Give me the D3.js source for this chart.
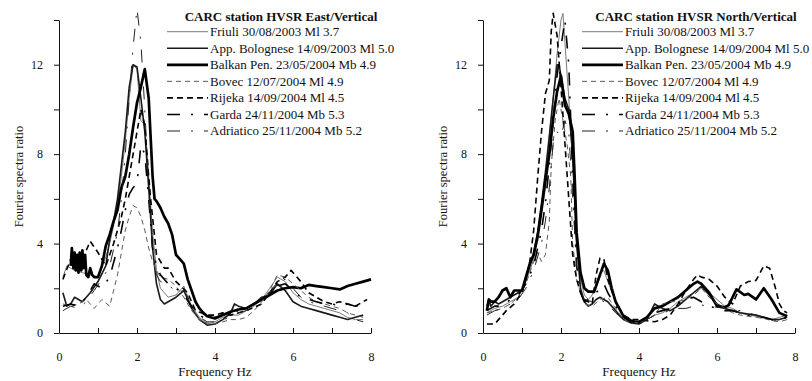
<!DOCTYPE html>
<html>
<head>
<meta charset="utf-8">
<script src="https://cdn.jsdelivr.net/npm/d3@7"></script>
<style>
  body { margin: 0; background: #fff; }
  svg text { font-family: "Liberation Serif", "Times New Roman", serif; fill: #111; }
</style>
</head>
<body>
<svg id="chart" width="812" height="381"></svg>
<script>
// Legend labels
const eastLabels = ["Friuli 30/08/2003 Ml 3.7", "App. Bolognese 14/09/2003 Ml 5.0", "Balkan Pen. 23/05/2004 Mb 4.9",
  "Bovec 12/07/2004 Ml 4.9", "Rijeka 14/09/2004 Ml 4.5", "Garda 24/11/2004 Mb 5.3", "Adriatico 25/11/2004 Mb 5.2"];
const northLabels = ["Friuli 30/08/2003 Ml 3.7", "App. Bolognese 14/09/2004 Ml 5.0", "Balkan Pen. 23/05/2004 Mb 4.9",
  "Bovec 12/07/2004 Ml 4.9", "Rijeka 14/09/2004 Ml 4.5", "Garda 24/11/2004 Mb 5.3", "Adriatico 25/11/2004 Mb 5.2"];

const xTicks = [0, 1, 2, 3, 4, 5, 6, 7, 8];
const yTicks = [0, 2, 4, 6, 8, 10, 12, 14];

// East/Vertical curves [frequency Hz, ratio]
const eastFriuli = [[0.1,2.5],[0.2,3.0],[0.4,2.8],[0.6,2.7],[0.8,2.6],[1.0,2.5],[1.2,3.4],[1.3,4.0],[1.4,4.8],[1.5,5.8],[1.6,7.0],[1.7,8.6],[1.8,10.5],[1.9,12.0],[2.0,11.8],[2.1,9.5],[2.2,9.3],[2.3,7.0],[2.4,4.5],[2.5,2.8],[2.6,2.0],[2.8,1.6],[3.0,1.7],[3.2,2.1],[3.4,1.2],[3.6,0.7],[3.8,0.4],[4.0,0.5],[4.2,0.7],[4.4,0.8],[4.6,0.8],[4.8,1.0],[5.0,1.2],[5.2,1.5],[5.4,2.0],[5.6,2.5],[5.8,2.3],[6.0,1.8],[6.2,1.5],[6.4,1.3],[6.6,1.2],[6.8,1.1],[7.0,1.0],[7.2,0.9],[7.4,0.7],[7.6,0.6],[7.8,0.6]];
const eastBolognese = [[0.1,1.8],[0.2,1.2],[0.3,1.3],[0.4,1.6],[0.6,1.4],[0.8,1.8],[1.0,2.3],[1.2,3.0],[1.3,4.2],[1.4,5.0],[1.5,6.0],[1.6,7.5],[1.7,9.0],[1.8,11.0],[1.9,12.0],[2.0,11.9],[2.1,10.5],[2.2,9.0],[2.3,6.5],[2.4,3.8],[2.5,2.2],[2.6,1.5],[2.7,1.3],[2.8,1.4],[3.0,1.6],[3.2,1.9],[3.4,1.1],[3.6,0.6],[3.8,0.35],[4.0,0.4],[4.2,0.6],[4.4,0.9],[4.5,1.3],[4.6,1.2],[4.8,1.1],[5.0,1.3],[5.2,1.6],[5.4,1.7],[5.6,2.2],[5.8,1.9],[6.0,1.4],[6.2,1.2],[6.4,1.1],[6.6,1.0],[6.8,0.9],[7.0,0.8],[7.2,0.7],[7.4,0.6],[7.6,0.7],[7.8,0.8]];
const eastBalkan = [[0.3,3.0],[0.33,3.8],[0.37,2.9],[0.4,3.6],[0.43,2.8],[0.47,3.5],[0.5,2.7],[0.53,3.6],[0.57,2.8],[0.6,3.7],[0.63,2.9],[0.67,3.5],[0.7,2.6],[0.75,2.5],[0.8,2.9],[0.85,2.6],[0.9,2.5],[1.0,2.5],[1.1,3.0],[1.2,3.9],[1.3,4.4],[1.4,5.0],[1.5,5.5],[1.6,6.5],[1.7,7.0],[1.8,8.0],[1.9,9.2],[2.0,10.3],[2.1,11.0],[2.2,11.8],[2.3,10.5],[2.4,7.0],[2.45,6.0],[2.5,5.9],[2.6,5.6],[2.7,5.2],[2.8,4.9],[2.9,4.4],[3.0,3.5],[3.1,3.3],[3.2,3.1],[3.3,2.4],[3.4,1.9],[3.5,1.4],[3.6,1.1],[3.7,0.9],[3.8,0.75],[4.0,0.65],[4.2,0.8],[4.4,0.95],[4.6,1.05],[4.8,1.1],[5.0,1.3],[5.2,1.5],[5.4,1.7],[5.6,1.9],[5.8,2.0],[6.0,2.05],[6.2,2.0],[6.4,2.15],[6.6,2.1],[6.8,2.05],[7.0,2.0],[7.2,1.95],[7.4,2.1],[7.6,2.2],[7.8,2.3],[8.0,2.4]];
const eastBovec = [[0.1,1.3],[0.3,1.2],[0.5,1.3],[0.7,1.5],[0.9,1.1],[1.1,1.5],[1.3,1.2],[1.5,2.6],[1.7,4.6],[1.8,5.2],[1.9,5.7],[2.0,5.6],[2.1,5.2],[2.2,4.6],[2.3,3.8],[2.4,3.2],[2.5,2.8],[2.6,2.5],[2.8,2.4],[3.0,2.1],[3.2,1.6],[3.4,1.0],[3.6,0.6],[3.8,0.45],[4.0,0.4],[4.2,0.5],[4.4,0.6],[4.6,0.6],[4.8,0.7],[5.0,1.0],[5.2,1.4],[5.4,1.9],[5.6,2.6],[5.8,2.5],[6.0,2.2],[6.2,1.9],[6.4,1.6],[6.6,1.4],[6.8,1.3],[7.0,1.2],[7.2,1.1],[7.4,0.9],[7.6,0.8],[7.8,0.7]];
const eastRijeka = [[0.1,2.4],[0.3,3.3],[0.5,3.4],[0.7,3.7],[0.8,4.1],[1.0,3.6],[1.2,3.0],[1.4,4.0],[1.6,5.2],[1.7,6.0],[1.8,7.0],[1.9,8.0],[2.0,9.0],[2.1,10.0],[2.2,9.3],[2.3,7.0],[2.35,6.0],[2.5,3.5],[2.7,2.9],[2.8,2.9],[3.0,2.3],[3.3,1.8],[3.5,1.0],[3.8,0.8],[4.0,0.8],[4.2,0.9],[4.4,0.8],[4.8,1.0],[5.2,1.3],[5.4,1.8],[5.6,2.3],[5.8,2.5],[5.95,2.8],[6.2,2.3],[6.4,1.8],[6.6,1.6],[6.8,1.4],[7.0,1.3],[7.2,1.4],[7.4,1.3],[7.6,1.2],[7.9,1.5]];
const eastGarda = [[0.1,1.2],[0.3,1.3],[0.5,1.2],[0.7,1.6],[0.9,2.2],[1.1,2.0],[1.3,2.5],[1.5,3.8],[1.6,4.6],[1.7,5.5],[1.8,6.2],[1.9,6.5],[2.0,6.7],[2.1,8.4],[2.2,8.0],[2.3,6.0],[2.4,3.8],[2.5,3.0],[2.6,2.6],[2.8,2.2],[3.0,2.0],[3.2,1.7],[3.4,1.2],[3.6,0.8],[3.8,0.6],[4.0,0.7],[4.2,0.8],[4.4,0.9],[4.6,1.0],[4.8,1.1],[5.0,1.3],[5.2,1.5],[5.4,1.8],[5.6,2.1],[5.8,2.2],[6.0,1.9],[6.2,1.6],[6.4,1.5],[6.6,1.4],[6.8,1.3],[7.0,1.3],[7.2,1.2],[7.4,1.3],[7.6,1.2],[7.8,1.3]];
const eastAdriatico = [[0.1,1.0],[0.3,1.2],[0.5,1.1],[0.7,1.4],[0.9,1.9],[1.1,2.4],[1.3,3.0],[1.5,4.5],[1.6,6.0],[1.7,8.0],[1.8,10.5],[1.9,12.8],[2.0,14.5],[2.1,13.0],[2.2,10.0],[2.3,6.5],[2.4,3.6],[2.5,2.6],[2.6,2.3],[2.8,2.2],[3.0,1.8],[3.2,1.9],[3.4,1.3],[3.6,0.7],[3.8,0.5],[4.0,0.5],[4.2,0.6],[4.4,0.7],[4.6,0.9],[4.8,1.0],[5.0,1.1],[5.2,1.3],[5.4,1.8],[5.6,2.3],[5.8,2.4],[6.0,2.0],[6.2,1.6],[6.4,1.4],[6.6,1.3],[6.8,1.2],[7.0,1.1],[7.2,1.0],[7.4,0.9],[7.6,0.6],[7.8,0.5]];

// North/Vertical curves
const northFriuli = [[0.1,0.9],[0.3,1.1],[0.5,1.2],[0.7,1.4],[0.9,1.6],[1.1,2.3],[1.3,3.3],[1.5,5.5],[1.6,7.0],[1.7,8.8],[1.8,10.5],[1.9,12.5],[2.0,14.0],[2.05,14.3],[2.1,13.0],[2.2,10.5],[2.3,7.5],[2.4,4.0],[2.5,2.4],[2.6,1.7],[2.7,1.5],[2.8,1.7],[2.9,2.2],[3.0,2.7],[3.1,2.8],[3.2,2.3],[3.4,1.4],[3.6,0.8],[3.8,0.5],[4.0,0.45],[4.2,0.6],[4.4,0.8],[4.6,0.9],[4.8,1.1],[5.0,1.4],[5.2,1.6],[5.4,1.8],[5.6,2.0],[5.8,1.8],[6.0,1.5],[6.2,1.2],[6.4,1.1],[6.6,0.9],[6.8,0.8],[7.0,0.75],[7.2,0.7],[7.4,0.6],[7.6,0.7],[7.8,0.8]];
const northBolognese = [[0.1,1.2],[0.15,1.5],[0.2,1.2],[0.3,1.4],[0.4,1.3],[0.6,1.5],[0.8,1.7],[1.0,1.9],[1.2,3.0],[1.3,3.6],[1.4,4.5],[1.5,5.8],[1.6,7.2],[1.7,8.8],[1.8,10.5],[1.9,12.0],[1.95,12.0],[2.0,11.5],[2.1,10.5],[2.2,10.0],[2.3,8.0],[2.4,4.0],[2.5,2.0],[2.6,1.4],[2.7,1.2],[2.8,1.3],[2.9,1.5],[3.0,1.6],[3.2,1.4],[3.4,1.0],[3.6,0.6],[3.8,0.45],[4.0,0.4],[4.2,0.6],[4.4,1.3],[4.6,1.1],[4.8,1.0],[5.0,1.2],[5.2,1.5],[5.4,1.8],[5.6,2.1],[5.8,1.7],[6.0,1.3],[6.2,1.1],[6.4,1.0],[6.6,0.9],[6.8,0.85],[7.0,0.8],[7.2,0.7],[7.4,0.6],[7.6,0.6],[7.8,0.7]];
const northBalkan = [[0.1,1.0],[0.15,1.5],[0.2,1.4],[0.3,1.4],[0.4,1.6],[0.5,1.9],[0.6,2.0],[0.7,1.6],[0.8,1.9],[0.9,1.9],[1.0,1.9],[1.1,2.5],[1.2,3.1],[1.3,3.5],[1.4,4.3],[1.5,5.5],[1.6,6.8],[1.7,8.0],[1.8,9.6],[1.9,10.8],[2.0,11.5],[2.1,10.2],[2.2,9.8],[2.3,9.0],[2.35,7.0],[2.4,4.5],[2.5,2.7],[2.6,2.0],[2.7,1.85],[2.85,1.85],[3.0,2.6],[3.1,3.1],[3.2,2.8],[3.3,2.0],[3.4,1.4],[3.6,0.75],[3.8,0.55],[3.9,0.5],[4.0,0.5],[4.2,0.7],[4.4,1.1],[4.6,1.2],[4.8,1.4],[5.0,1.6],[5.2,1.9],[5.4,2.2],[5.5,2.3],[5.6,2.2],[5.8,1.8],[6.0,1.2],[6.2,1.15],[6.3,1.25],[6.5,1.95],[6.7,1.7],[6.8,1.75],[7.0,1.5],[7.2,2.0],[7.4,1.5],[7.6,0.9],[7.8,0.75]];
const northBovec = [[0.1,0.9],[0.3,1.0],[0.5,1.1],[0.7,1.3],[0.9,1.6],[1.1,2.2],[1.3,3.2],[1.4,3.6],[1.5,3.2],[1.6,3.5],[1.7,5.0],[1.75,7.5],[1.85,9.5],[1.95,10.5],[2.05,9.5],[2.15,8.5],[2.25,7.0],[2.3,4.0],[2.4,2.4],[2.5,1.8],[2.6,1.3],[2.8,1.2],[3.0,1.5],[3.2,1.6],[3.4,1.1],[3.6,0.6],[3.8,0.5],[4.0,0.45],[4.2,0.6],[4.4,0.8],[4.6,1.3],[4.8,1.4],[5.0,1.4],[5.2,1.5],[5.4,1.7],[5.6,2.0],[5.8,1.6],[6.0,1.3],[6.2,1.1],[6.4,0.9],[6.6,0.8],[6.8,0.75],[7.0,0.7],[7.2,0.65],[7.4,0.55],[7.6,0.5],[7.8,0.6]];
const northRijeka = [[0.1,0.4],[0.3,0.4],[0.5,0.8],[0.6,1.0],[0.8,1.3],[1.0,1.8],[1.1,2.4],[1.2,3.2],[1.3,4.6],[1.4,6.9],[1.5,9.0],[1.6,10.7],[1.7,11.3],[1.75,13.5],[1.8,14.3],[1.9,13.3],[2.0,11.0],[2.1,8.5],[2.2,6.0],[2.3,3.5],[2.4,2.4],[2.5,1.8],[2.6,1.5],[2.7,1.4],[2.8,1.3],[2.9,2.6],[3.0,3.35],[3.1,3.3],[3.2,2.4],[3.4,1.4],[3.6,0.8],[3.8,0.6],[4.0,0.6],[4.2,0.55],[4.4,0.5],[4.6,0.6],[4.8,0.8],[5.0,1.3],[5.2,1.9],[5.4,2.4],[5.5,2.6],[5.6,2.5],[5.8,2.4],[6.0,2.1],[6.2,1.6],[6.4,1.3],[6.6,2.1],[6.8,2.3],[7.0,2.35],[7.2,3.0],[7.35,2.9],[7.5,2.0],[7.6,1.3],[7.7,1.0],[7.8,0.9]];
const northGarda = [[0.1,1.0],[0.3,1.2],[0.5,1.2],[0.7,1.5],[0.9,1.7],[1.1,2.2],[1.3,3.0],[1.5,4.6],[1.6,5.8],[1.7,7.5],[1.8,9.5],[1.9,11.5],[2.0,12.8],[2.1,14.0],[2.2,12.0],[2.3,7.0],[2.4,3.0],[2.5,1.8],[2.6,1.4],[2.8,1.6],[3.0,2.0],[3.1,2.2],[3.2,1.8],[3.4,1.2],[3.6,0.7],[3.8,0.5],[4.0,0.5],[4.2,0.7],[4.4,0.9],[4.6,1.0],[4.8,1.1],[5.0,1.3],[5.2,1.5],[5.4,1.6],[5.6,1.4],[5.8,1.2],[6.0,1.1],[6.2,1.0],[6.4,1.0],[6.6,0.9],[6.8,0.8],[7.0,0.7],[7.2,0.7],[7.4,0.6],[7.6,0.6],[7.8,0.7]];
const northAdriatico = [[0.1,0.8],[0.3,1.0],[0.5,1.1],[0.7,1.3],[0.9,1.5],[1.1,2.0],[1.3,2.8],[1.5,4.0],[1.6,5.0],[1.7,6.5],[1.8,8.5],[1.9,9.0],[2.0,8.8],[2.1,9.5],[2.2,9.0],[2.3,6.0],[2.4,3.0],[2.5,1.9],[2.6,1.5],[2.8,1.4],[3.0,1.5],[3.2,1.3],[3.4,0.9],[3.6,0.6],[3.8,0.45],[4.0,0.45],[4.2,0.6],[4.4,0.8],[4.6,0.9],[4.8,1.0],[5.0,1.1],[5.2,1.1],[5.4,1.2],[5.6,1.25],[5.8,1.2],[6.0,1.15],[6.2,1.1],[6.4,1.0],[6.6,1.0],[6.8,0.9],[7.0,0.8],[7.2,0.7],[7.4,0.6],[7.6,0.55],[7.8,0.6]];

// Line style for each event (same order as legend)
const estilos = [
  { color: "#7a7a7a", width: 1,   dash: null },
  { color: "#1a1a1a", width: 1.6, dash: null },
  { color: "#000",    width: 2.7, dash: null },
  { color: "#5a5a5a", width: 1,   dash: "5,4" },
  { color: "#000",    width: 1.6, dash: "6,4" },
  { color: "#000",    width: 1.6, dash: "13,11,2,11" },
  { color: "#222",    width: 1,   dash: "13,11,2,11" }
];

const svg = d3.select("#chart");

function dibujarPanel(ejeX, series, titulo, etiquetas, leyendaX, textoX, tituloX) {
  const x = d3.scaleLinear().domain([0, 8]).range([ejeX, ejeX + 312]);
  const y = d3.scaleLinear().domain([0, 14]).range([333, 20]);
  const g = svg.append("g");

  // Curvas
  const linea = d3.line().x(d => x(d[0])).y(d => y(d[1]));
  series.forEach((s, i) => {
    const e = estilos[i];
    g.append("path")
      .datum(s)
      .attr("fill", "none")
      .attr("stroke", e.color)
      .attr("stroke-width", e.width)
      .attr("stroke-dasharray", e.dash)
      .attr("stroke-linejoin", "round")
      .attr("d", linea);
  });

  // Ejes
  const ax = g.append("g")
    .attr("transform", `translate(0,${y(0)})`)
    .call(d3.axisBottom(x).tickValues(xTicks).tickSizeInner(-5).tickSizeOuter(0).tickPadding(19)
      .tickFormat(d => d % 2 === 0 ? d : ""));
  const ay = g.append("g")
    .attr("transform", `translate(${x(0)},0)`)
    .call(d3.axisLeft(y).tickValues(yTicks).tickSizeInner(5).tickSizeOuter(0).tickPadding(11)
      .tickFormat(d => d % 4 === 0 && d < 14 ? d : ""));
  [ax, ay].forEach(a => {
    a.selectAll("text").style("font-size", "12px").style("font-family", "'Liberation Serif', serif").attr("fill", "#222");
    a.selectAll("line, path").attr("stroke", "#111");
  });

  // Títulos de ejes
  g.append("text")
    .attr("x", x(4)).attr("y", 376)
    .attr("text-anchor", "middle")
    .style("font-size", "13px")
    .text("Frequency Hz");
  g.append("text")
    .attr("transform", `translate(${ejeX - 36},${y(7)}) rotate(-90)`)
    .attr("text-anchor", "middle")
    .style("font-size", "12.5px")
    .text("Fourier spectra ratio");

  // Leyenda
  g.append("text")
    .attr("x", tituloX).attr("y", 21)
    .attr("text-anchor", "middle")
    .style("font-size", "13px")
    .style("font-weight", "bold")
    .text(titulo);

  etiquetas.forEach((t, i) => {
    const e = estilos[i];
    const fy = 31.7 + i * 16.55;
    g.append("line")
      .attr("x1", leyendaX).attr("x2", leyendaX + 41)
      .attr("y1", fy).attr("y2", fy)
      .attr("stroke", e.color)
      .attr("stroke-width", e.width)
      .attr("stroke-dasharray", e.dash);
    g.append("text")
      .attr("x", textoX).attr("y", fy + 4.3)
      .style("font-size", "13px")
      .text(t);
  });
}

dibujarPanel(59,
  [eastFriuli, eastBolognese, eastBalkan, eastBovec, eastRijeka, eastGarda, eastAdriatico],
  "CARC station HVSR East/Vertical", eastLabels, 167, 210, 281);
dibujarPanel(483,
  [northFriuli, northBolognese, northBalkan, northBovec, northRijeka, northGarda, northAdriatico],
  "CARC station HVSR North/Vertical", northLabels, 582, 625, 696);
</script>
</body>
</html>
